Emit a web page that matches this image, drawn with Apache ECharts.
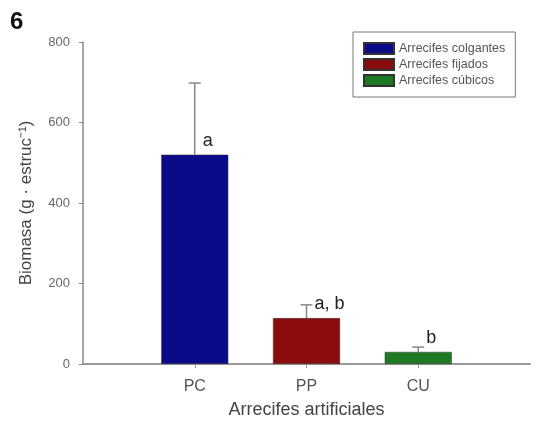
<!DOCTYPE html>
<html><head><meta charset="utf-8">
<script src="https://cdn.jsdelivr.net/npm/echarts@6/dist/echarts.min.js"></script>
<style>html,body{margin:0;padding:0;background:#fff}#c{width:558px;height:426px}</style>
</head><body><div id="c"></div>
<script>
const categories = ['', 'PC', 'PP', 'CU', ''];
const seriesNames = ['Arrecifes colgantes', 'Arrecifes fijados', 'Arrecifes cúbicos'];
const means = [520, 114, 30];
const errorTops = [698, 147, 42];
const letters = ['a', 'a, b', 'b'];
const yTicks = [0, 200, 400, 600, 800];
const colors = ['#0b0b8a', '#8a0c0c', '#1d7a22'];

const chart = echarts.init(document.getElementById('c'));
const barSeries = seriesNames.map((name, i) => {
  const d = categories.map(() => '-');
  d[i + 1] = means[i];
  return {
    name, type: 'bar', data: d, barWidth: 67, barGap: '-100%',
    itemStyle: { color: colors[i], borderColor: '#333', borderWidth: 0.5 },
    z: 2
  };
});
const errData = means.map((m, i) => [i + 1, m, errorTops[i], i]);
chart.setOption({
  animation: false,
  grid: { left: 83, top: 42, right: 28, bottom: 62 },
  title: { text: '6', left: 5, top: 5, textStyle: { fontSize: 24, fontWeight: 'bold', color: '#111', fontFamily: 'Liberation Sans' } },
  legend: {
    orient: 'vertical', left: 353, top: 32,
    itemWidth: 30, itemHeight: 11, itemGap: 3,
    borderColor: '#777', borderWidth: 1, padding: [10, 10, 10, 10],
    textStyle: { fontSize: 12.5, lineHeight: 11, color: '#555', fontFamily: 'Liberation Sans' },
    data: seriesNames, icon: 'rect'
  },
  xAxis: {
    type: 'category', data: categories, boundaryGap: false,
    name: 'Arrecifes artificiales', nameLocation: 'middle', nameGap: 37,
    nameTextStyle: { fontSize: 18, color: '#444', fontFamily: 'Liberation Sans' },
    axisLine: { lineStyle: { color: '#999', width: 2 } },
    axisTick: { length: 4, lineStyle: { color: '#999' }, interval: (i) => i >= 1 && i <= 3 },
    axisLabel: { fontSize: 16, color: '#555', margin: 15, interval: (i) => i >= 1 && i <= 3, fontFamily: 'Liberation Sans' }
  },
  yAxis: {
    type: 'value', min: 0, max: 800, interval: 200,
    name: 'Biomasa (g · estruc⁻¹)', nameLocation: 'middle', nameGap: 48,
    nameTextStyle: { fontSize: 17, color: '#444', fontFamily: 'Liberation Sans' },
    axisLine: { show: true, lineStyle: { color: '#888', width: 1.5 } },
    axisTick: { show: true, length: 4, lineStyle: { color: '#888' } },
    axisLabel: { fontSize: 13, color: '#666', margin: 13, fontFamily: 'Liberation Sans' },
    splitLine: { show: false }
  },
  series: [...barSeries, {
    type: 'custom', data: errData, z: 3, silent: true,
    renderItem: (params, api) => {
      const x = api.value(0);
      const top = api.coord([x, api.value(1)]);
      const eTop = api.coord([x, api.value(2)]);
      const idx = api.value(3);
      return {
        type: 'group', children: [
          { type: 'line', shape: { x1: top[0], y1: top[1], x2: eTop[0], y2: eTop[1] }, style: { stroke: '#888', lineWidth: 1.5 } },
          { type: 'line', shape: { x1: eTop[0] - 6, y1: eTop[1], x2: eTop[0] + 6, y2: eTop[1] }, style: { stroke: '#888', lineWidth: 1.5 } },
          { type: 'text', style: { text: letters[idx], x: top[0] + 8, y: top[1] - 14, textAlign: 'left', textVerticalAlign: 'middle', fontSize: 18, fill: '#222', fontFamily: 'Liberation Sans' } }
        ]
      };
    }
  }]
});
</script></body></html>
